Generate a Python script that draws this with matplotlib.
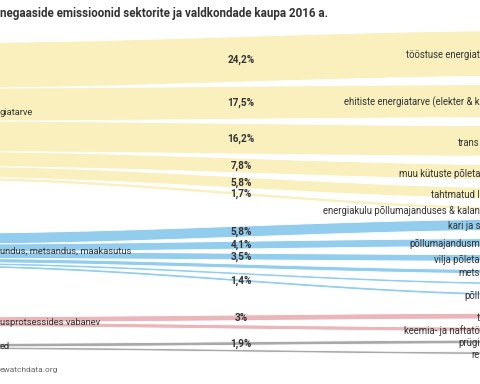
import numpy as np
import matplotlib
matplotlib.use("Agg")
import matplotlib.pyplot as plt

# ---------------- data ----------------
title = "negaaside emissioonid sektorite ja valdkondade kaupa 2016 a."
source_text = "ewatchdata.org"

source_labels = ["giatarve", "undus, metsandus, maakasutus",
                 "usprotsessides vabanev", "ed"]
source_colors = ["#faf0be", "#92cdee", "#e9b6ba", "#a9a9a9"]

target_labels = ["tööstuse energiat", "ehitiste energiatarve (elekter & k", "trans",
                 "muu kütuste põleta", "tahtmatud l", "energiakulu põllumajanduses & kalan",
                 "kari ja s", "põllumajandusm", "vilja põleta", "mets", "", "põll", "",
                 "t", "keemia- ja naftatö",
                 "prügi", "re"]
values = [24.2, 17.5, 16.2, 7.8, 5.8, 1.7,
          5.8, 4.1, 3.5, 2.2, 1.3, 1.4, 0.1,
          3.0, 2.2,
          1.9, 1.3]
source_of = [0, 0, 0, 0, 0, 0,
             1, 1, 1, 1, 1, 1, 1,
             2, 2,
             3, 3]
pct_labels = ["24,2%", "17,5%", "16,2%", "7,8%", "5,8%", "1,7%",
              "5,8%", "4,1%", "3,5%", "", "", "1,4%", "",
              "3%", "",
              "1,9%", ""]

# ---------------- layout (pixel space of the 480x384 canvas) ----------------
W_PX, H_PX = 480, 384
k = 1.88          # px per percent
pad = 8.5         # node padding on the target column
top0 = 30.5       # top of first target node
x_src, x_tgt = -60.0, 542.0

vals = np.array(values)
h = vals * k
t_top = np.zeros(len(vals))
y = top0
for i, hh in enumerate(h):
    t_top[i] = y
    y += hh + pad
t_cen = t_top + h / 2

src_idx = np.array(source_of)
n_src = len(source_labels)
s_cen = np.array([np.average(t_cen[src_idx == s], weights=vals[src_idx == s]) for s in range(n_src)])
s_h = np.array([vals[src_idx == s].sum() * k for s in range(n_src)])
s_top = s_cen - s_h / 2

l_top = np.zeros(len(vals))
for s in range(n_src):
    yy = s_top[s]
    for i in np.where(src_idx == s)[0]:
        l_top[i] = yy
        yy += h[i]

plt.rcParams['font.family'] = ['Roboto', 'DejaVu Sans']
fig = plt.figure(figsize=(4.8, 3.84), dpi=100)
ax = fig.add_axes([0, 0, 1, 1])
ax.set_xlim(0, W_PX)
ax.set_ylim(H_PX, 0)
ax.axis('off')

t = np.linspace(0, 1, 300)
xs = x_src + (x_tgt - x_src) * t
sm = 3 * t**2 - 2 * t**3
for i in range(len(vals)):
    top = l_top[i] + (t_top[i] - l_top[i]) * sm
    bot = top + h[i]
    ax.fill_between(xs, top, bot, facecolor=source_colors[source_of[i]],
                    edgecolor='white', linewidth=0.6, zorder=2)
    if pct_labels[i]:
        xm = (x_src + x_tgt) / 2
        ym = (l_top[i] + t_top[i]) / 2 + h[i] / 2
        ax.text(xm, ym, pct_labels[i], ha='center', va='center', fontsize=7.2,
                fontweight='bold', color='#333333', zorder=4)
    if target_labels[i]:
        ax.text(W_PX, t_cen[i] + 1.5, target_labels[i], ha='right', va='center',
                fontsize=6.85, color='#333333', zorder=4)

for s in range(n_src):
    ax.text(0, s_cen[s] + 0.5, source_labels[s], ha='left', va='center', fontsize=6.75,
            color='#333333', zorder=4)

ax.text(0, 13, title, ha='left', va='center', fontsize=8.4, fontweight='bold',
        color='#333333')
ax.text(0, 370, source_text, ha='left', va='center', fontsize=6.0, color='#666666')

fig.savefig("out.png", dpi=100)
